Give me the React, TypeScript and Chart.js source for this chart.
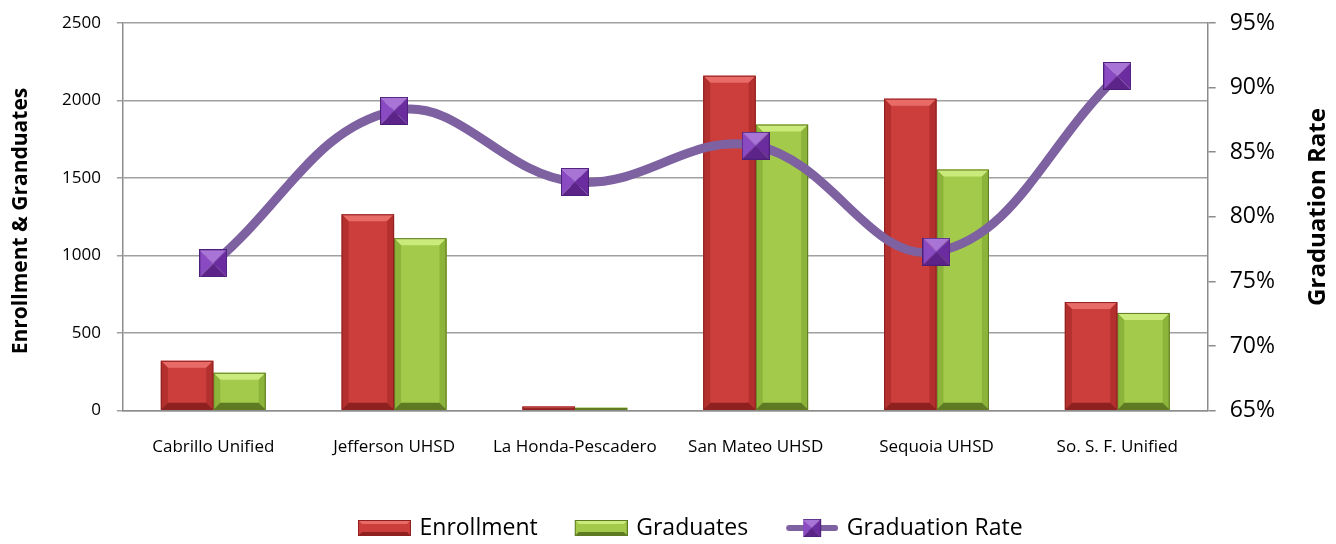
import React, { useEffect, useRef } from "react";
import { Chart, registerables } from "chart.js";

Chart.register(...registerables);

const categories = ["Cabrillo Unified", "Jefferson UHSD", "La Honda-Pescadero", "San Mateo UHSD", "Sequoia UHSD", "So. S. F. Unified"];
const enrollment = [321, 1266, 26, 2160, 2012, 700];
const graduates = [244, 1112, 18, 1845, 1555, 630];
const gradRate = [76.4, 88.2, 82.7, 85.5, 77.3, 90.9];
const leftTicks = [0, 500, 1000, 1500, 2000, 2500];
const rightTicks = [65, 70, 75, 80, 85, 90, 95];

const FONT = "'Open Sans', 'Noto Sans', sans-serif";
const RED = "#CC3E3B";
const RED_LIGHT = "#E86B68";
const RED_DARK = "#8E2120";
const GREEN = "#A3CA4A";
const GREEN_LIGHT = "#CBEA7C";
const GREEN_DARK = "#5E7A22";
const LINE = "#7D61A1";
const MARK_LIGHT = "#A874D6";
const MARK_DARK = "#4E1F7A";
const ICON_W = 88;
const BOX_W = 82;
const ICON_MARGIN = 35;

function makeMarker(size: number) {
  const c = document.createElement("canvas");
  c.width = size;
  c.height = size;
  const x = c.getContext("2d")!;
  const s = size;
  const m = s / 2;
  const tri = (pts: number[][], col: string) => {
    x.beginPath();
    x.moveTo(pts[0][0], pts[0][1]);
    for (let i = 1; i < pts.length; i++) x.lineTo(pts[i][0], pts[i][1]);
    x.closePath();
    x.fillStyle = col;
    x.fill();
  };
  tri([[0, 0], [s, 0], [m, m]], MARK_LIGHT);
  tri([[0, 0], [m, m], [0, s]], "#8A4AC2");
  tri([[s, 0], [s, s], [m, m]], "#6A2C9E");
  tri([[0, s], [s, s], [m, m]], "#5C2489");
  x.strokeStyle = MARK_DARK;
  x.lineWidth = 1;
  x.strokeRect(0.5, 0.5, s - 1, s - 1);
  return c;
}

function makeBoxIcon(fill: string, dark: string, light: string) {
  const c = document.createElement("canvas");
  c.width = ICON_W;
  c.height = 16;
  const x = c.getContext("2d")!;
  x.translate(ICON_MARGIN, 0);
  const w = ICON_W - ICON_MARGIN;
  x.fillStyle = fill;
  x.fillRect(0, 0, w, 16);
  x.fillStyle = light;
  x.beginPath();
  x.moveTo(0, 0);
  x.lineTo(w, 0);
  x.lineTo(w - 4, 4);
  x.lineTo(4, 4);
  x.closePath();
  x.fill();
  x.fillStyle = dark;
  x.beginPath();
  x.moveTo(0, 16);
  x.lineTo(w, 16);
  x.lineTo(w - 4, 12);
  x.lineTo(4, 12);
  x.closePath();
  x.fill();
  x.strokeStyle = dark;
  x.lineWidth = 1;
  x.strokeRect(0.5, 0.5, w - 1, 15);
  return c;
}

function makeLineIcon(marker: HTMLCanvasElement) {
  const c = document.createElement("canvas");
  c.width = ICON_W;
  c.height = 22;
  const x = c.getContext("2d")!;
  x.translate(ICON_MARGIN, 0);
  const w = ICON_W - ICON_MARGIN;
  x.strokeStyle = LINE;
  x.lineWidth = 6;
  x.lineCap = "round";
  x.beginPath();
  x.moveTo(4, 11);
  x.lineTo(w - 3, 11);
  x.stroke();
  x.drawImage(marker, w / 2 - 9, 2, 18, 18);
  return c;
}

const bevelPlugin = {
  id: "bevel",
  afterDatasetDraw(chart: any, args: any) {
    const meta = args.meta;
    if (meta.type !== "bar") return;
    const ctx = chart.ctx;
    const isRed = args.index === 0;
    const light = isRed ? RED_LIGHT : GREEN_LIGHT;
    const dark = isRed ? RED_DARK : GREEN_DARK;
    const side = isRed ? "#B3302E" : "#8DB43A";
    ctx.save();
    meta.data.forEach((el: any) => {
      const { x, y, base, width } = el.getProps(["x", "y", "base", "width"], true);
      const l = x - width / 2;
      const r = x + width / 2;
      const t = y;
      const b = base;
      const h = b - t;
      const bv = Math.min(7, h / 2, width / 2);
      const poly = (pts: number[][], col: string) => {
        ctx.beginPath();
        ctx.moveTo(pts[0][0], pts[0][1]);
        for (let i = 1; i < pts.length; i++) ctx.lineTo(pts[i][0], pts[i][1]);
        ctx.closePath();
        ctx.fillStyle = col;
        ctx.fill();
      };
      poly([[l, t], [r, t], [r - bv, t + bv], [l + bv, t + bv]], light);
      poly([[l, t], [l + bv, t + bv], [l + bv, b - bv], [l, b]], side);
      poly([[r, t], [r, b], [r - bv, b - bv], [r - bv, t + bv]], side);
      poly([[l, b], [l + bv, b - bv], [r - bv, b - bv], [r, b]], dark);
      ctx.strokeStyle = dark;
      ctx.lineWidth = 1;
      ctx.strokeRect(l + 0.5, t + 0.5, width - 1, h - 1);
    });
    ctx.restore();
  },
};

const titlesPlugin = {
  id: "titles",
  afterLayout(chart: any) {
    const lg = chart.legend;
    if (lg && lg.lineWidths) {
      const pad = 5;
      const cursorX = (lg.left + pad + lg.right - lg.lineWidths[0]) / 2;
      const dx = 326 - cursorX;
      lg.left += dx;
      lg.right += dx;
      const dy = 511.5 - lg.top;
      lg.top += dy;
      lg.bottom += dy;
    }
  },
  afterDraw(chart: any) {
    const { ctx } = chart;
    ctx.save();
    ctx.fillStyle = "#000";
    ctx.textAlign = "center";
    ctx.textBaseline = "middle";
    ctx.font = `bold 24px ${FONT}`;
    ctx.translate(1318, 207);
    ctx.rotate(-Math.PI / 2);
    ctx.fillText("Graduation Rate", 0, 0);
    ctx.restore();
    ctx.save();
    ctx.fillStyle = "#000";
    ctx.textAlign = "center";
    ctx.textBaseline = "middle";
    ctx.font = `bold 21px ${FONT}`;
    ctx.translate(21, 221);
    ctx.rotate(-Math.PI / 2);
    ctx.fillText("Enrollment & Granduates", 0, 0);
    ctx.restore();
  },
};

export default function App() {
  const ref = useRef<HTMLCanvasElement>(null);
  useEffect(() => {
    if (!ref.current) return;
    const marker = makeMarker(28);
    const icons = [
      makeBoxIcon(RED, RED_DARK, RED_LIGHT),
      makeBoxIcon(GREEN, GREEN_DARK, GREEN_LIGHT),
      makeLineIcon(marker),
    ];
    const noPad = (axis: any) => {
      axis.paddingTop = 0;
      axis.paddingBottom = 0;
    };
    const chart = new Chart(ref.current, {
      type: "bar",
      data: {
        labels: categories,
        datasets: [
          {
            type: "bar",
            label: "Enrollment",
            data: enrollment,
            backgroundColor: RED,
            borderWidth: 0,
            yAxisID: "y",
            order: 1,
            categoryPercentage: 0.58,
            barPercentage: 1.0,
          },
          {
            type: "bar",
            label: "Graduates",
            data: graduates,
            backgroundColor: GREEN,
            borderWidth: 0,
            yAxisID: "y",
            order: 2,
            categoryPercentage: 0.58,
            barPercentage: 1.0,
          },
          {
            type: "line",
            label: "Graduation Rate",
            data: gradRate,
            borderColor: LINE,
            borderWidth: 9,
            tension: 0.4,
            pointStyle: marker,
            pointRadius: 14,
            yAxisID: "y1",
            order: 0,
          },
        ],
      } as any,
      options: {
        animation: false,
        responsive: true,
        maintainAspectRatio: false,
        layout: { padding: { left: 46, right: 47, top: 18, bottom: 0 } },
        plugins: {
          tooltip: { enabled: false },
          legend: {
            position: "bottom",
            labels: {
              usePointStyle: true,
              pointStyleWidth: BOX_W,
              boxHeight: 23,
              padding: 5,
              font: { family: FONT, size: 23 },
              color: "#000",
              generateLabels: () =>
                ["Enrollment", "Graduates", "Graduation Rate"].map((t, i) => ({
                  text: t,
                  pointStyle: icons[i],
                  fillStyle: "transparent",
                  strokeStyle: "transparent",
                  lineWidth: 0,
                  hidden: false,
                  datasetIndex: i,
                })),
            },
          },
        },
        scales: {
          x: {
            grid: { display: false, drawTicks: false },
            border: { display: true, color: "#8c8c8c", width: 1.5 },
            ticks: { color: "#000", font: { family: FONT, size: 17 }, padding: 26, maxRotation: 0, autoSkip: false },
            afterFit: (axis: any) => {
              axis.height += 23;
            },
          },
          y: {
            position: "left",
            min: 0,
            max: 2500,
            afterBuildTicks: (axis: any) => {
              axis.ticks = leftTicks.map((v) => ({ value: v }));
            },
            afterFit: noPad,
            grid: { color: "#a0a0a0", lineWidth: 1.5, tickLength: 6 },
            border: { display: true, color: "#8c8c8c", width: 1.5 },
            ticks: { color: "#000", font: { family: FONT, size: 17 }, padding: 16, callback: (v: any) => String(v) },
          },
          y1: {
            position: "right",
            min: 65,
            max: 95,
            afterBuildTicks: (axis: any) => {
              axis.ticks = rightTicks.map((v) => ({ value: v }));
            },
            afterFit: noPad,
            grid: { drawOnChartArea: false, color: "#8c8c8c", lineWidth: 1.5, tickLength: 8 },
            border: { display: true, color: "#8c8c8c", width: 1.5 },
            ticks: { color: "#000", font: { family: FONT, size: 23 }, padding: 14, callback: (v: any) => `${v}%` },
          },
        },
      },
      plugins: [bevelPlugin, titlesPlugin],
    });
    return () => chart.destroy();
  }, []);
  return (
    <div style={{ position: "fixed", left: 0, top: 0, width: 1336, height: 544, background: "#fff" }}>
      <canvas ref={ref} />
    </div>
  );
}
